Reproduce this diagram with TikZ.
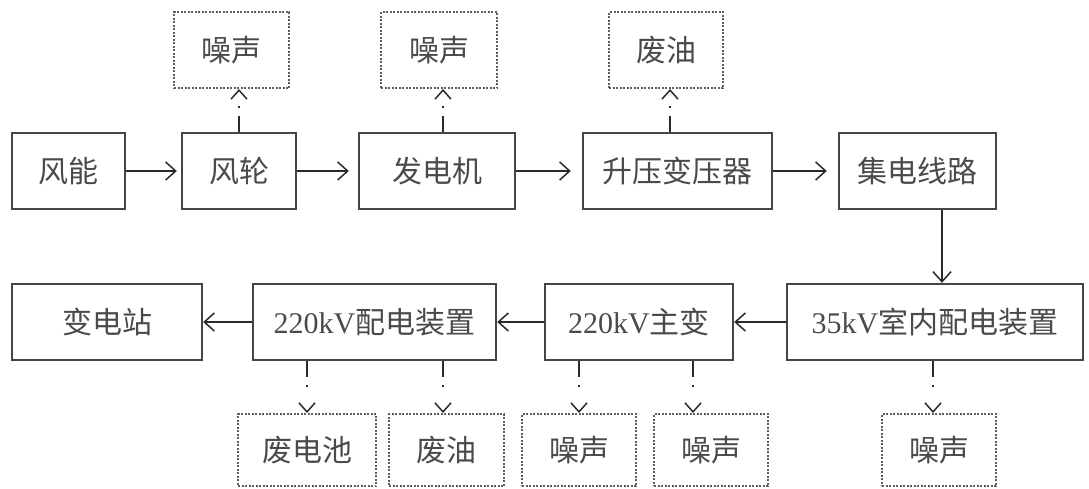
\documentclass[tikz,border=0pt]{standalone}
\usepackage{fontspec}
\setmainfont{Liberation Serif}
\newfontfamily\cjk{Noto Sans CJK SC}
\usetikzlibrary{arrows.meta}
\newcommand\lat[1]{{\rmfamily #1}}
\definecolor{boxline}{HTML}{454545}
\definecolor{arr}{HTML}{2A2A2A}
\definecolor{txt}{HTML}{4A4A4A}
\definecolor{dline}{HTML}{5E5E5E}
\tikzset{
  base/.style={rectangle, inner sep=0pt, text=txt, font=\cjk\fontsize{30}{32}\selectfont},
  proc/.style={base, draw=boxline, line width=2.4pt, minimum height=76pt},
  waste/.style={base, draw=dline, line width=2pt, dash pattern=on 2pt off 1.5pt, minimum height=76pt},
  flow/.style={draw=arr, line width=1.5pt, -{Straight Barb[length=10pt,width=18pt,line width=1.5pt]}},
  emit/.style={draw=arr, line width=1.5pt, dash pattern=on 16pt off 8pt on 2pt off 40pt, -{Straight Barb[length=9pt,width=16pt,line width=1.5pt]}}
}
\begin{document}
\begin{tikzpicture}[x=1pt,y=-1pt]
\useasboundingbox (0,0) rectangle (1089,488);
% top row
\node[proc, minimum width=113pt] (fn)  at (68.5,171) {风能};
\node[proc, minimum width=114pt] (fl)  at (239,171) {风轮};
\node[proc, minimum width=156pt] (fdj) at (437,171) {发电机};
\node[proc, minimum width=189pt] (sy)  at (677.5,171) {升压变压器};
\node[proc, minimum width=157pt] (jd)  at (917.5,171) {集电线路};
% top waste
\node[waste, minimum width=115pt] (ns1) at (231.5,50) {噪声};
\node[waste, minimum width=116pt] (ns2) at (439,50) {噪声};
\node[waste, minimum width=114pt] (fy1) at (666,50) {废油};
% bottom row
\node[proc, minimum width=190pt] (bdz) at (107,322) {变电站};
\node[proc, minimum width=243pt] (pd)  at (374.5,322) {\lat{220kV}配电装置};
\node[proc, minimum width=188pt] (zb)  at (639,322) {\lat{220kV}主变};
\node[proc, minimum width=296pt] (kv)  at (935,322) {\lat{35kV}室内配电装置};
% bottom waste
\node[waste, minimum width=138pt, minimum height=72pt] (fdc) at (307,450) {废电池};
\node[waste, minimum width=115pt, minimum height=72pt] (fy2) at (446.5,450) {废油};
\node[waste, minimum width=114pt, minimum height=72pt] (ns3) at (579,450) {噪声};
\node[waste, minimum width=114pt, minimum height=72pt] (ns4) at (711,450) {噪声};
\node[waste, minimum width=114pt, minimum height=72pt] (ns5) at (939,450) {噪声};
% x positions of vertical connectors
\coordinate (x1) at (239,0);
\coordinate (x2) at (443,0);
\coordinate (x3) at (670,0);
\coordinate (x4) at (942,0);
\coordinate (x5) at (307,0);
\coordinate (x6) at (443,0);
\coordinate (x7) at (579,0);
\coordinate (x8) at (693,0);
\coordinate (x9) at (933,0);
% main flow
\draw[flow, shorten >=4pt] (fn) -- (fl);
\draw[flow, shorten >=9pt] (fl) -- (fdj);
\draw[flow, shorten >=11pt] (fdj) -- (sy);
\draw[flow, shorten >=11pt] (sy) -- (jd);
\draw[flow] (jd.south -| x4) -- (kv.north -| x4);
\draw[flow] (kv) -- (zb);
\draw[flow] (zb) -- (pd);
\draw[flow] (pd) -- (bdz);
% emissions
\draw[emit] (fl.north -| x1) -- (ns1.south -| x1);
\draw[emit] (fdj.north -| x2) -- (ns2.south -| x2);
\draw[emit] (sy.north -| x3) -- (fy1.south -| x3);
\draw[emit] (pd.south -| x5) -- (fdc.north -| x5);
\draw[emit] (pd.south -| x6) -- (fy2.north -| x6);
\draw[emit] (zb.south -| x7) -- (ns3.north -| x7);
\draw[emit] (zb.south -| x8) -- (ns4.north -| x8);
\draw[emit] (kv.south -| x9) -- (ns5.north -| x9);
\end{tikzpicture}
\end{document}
